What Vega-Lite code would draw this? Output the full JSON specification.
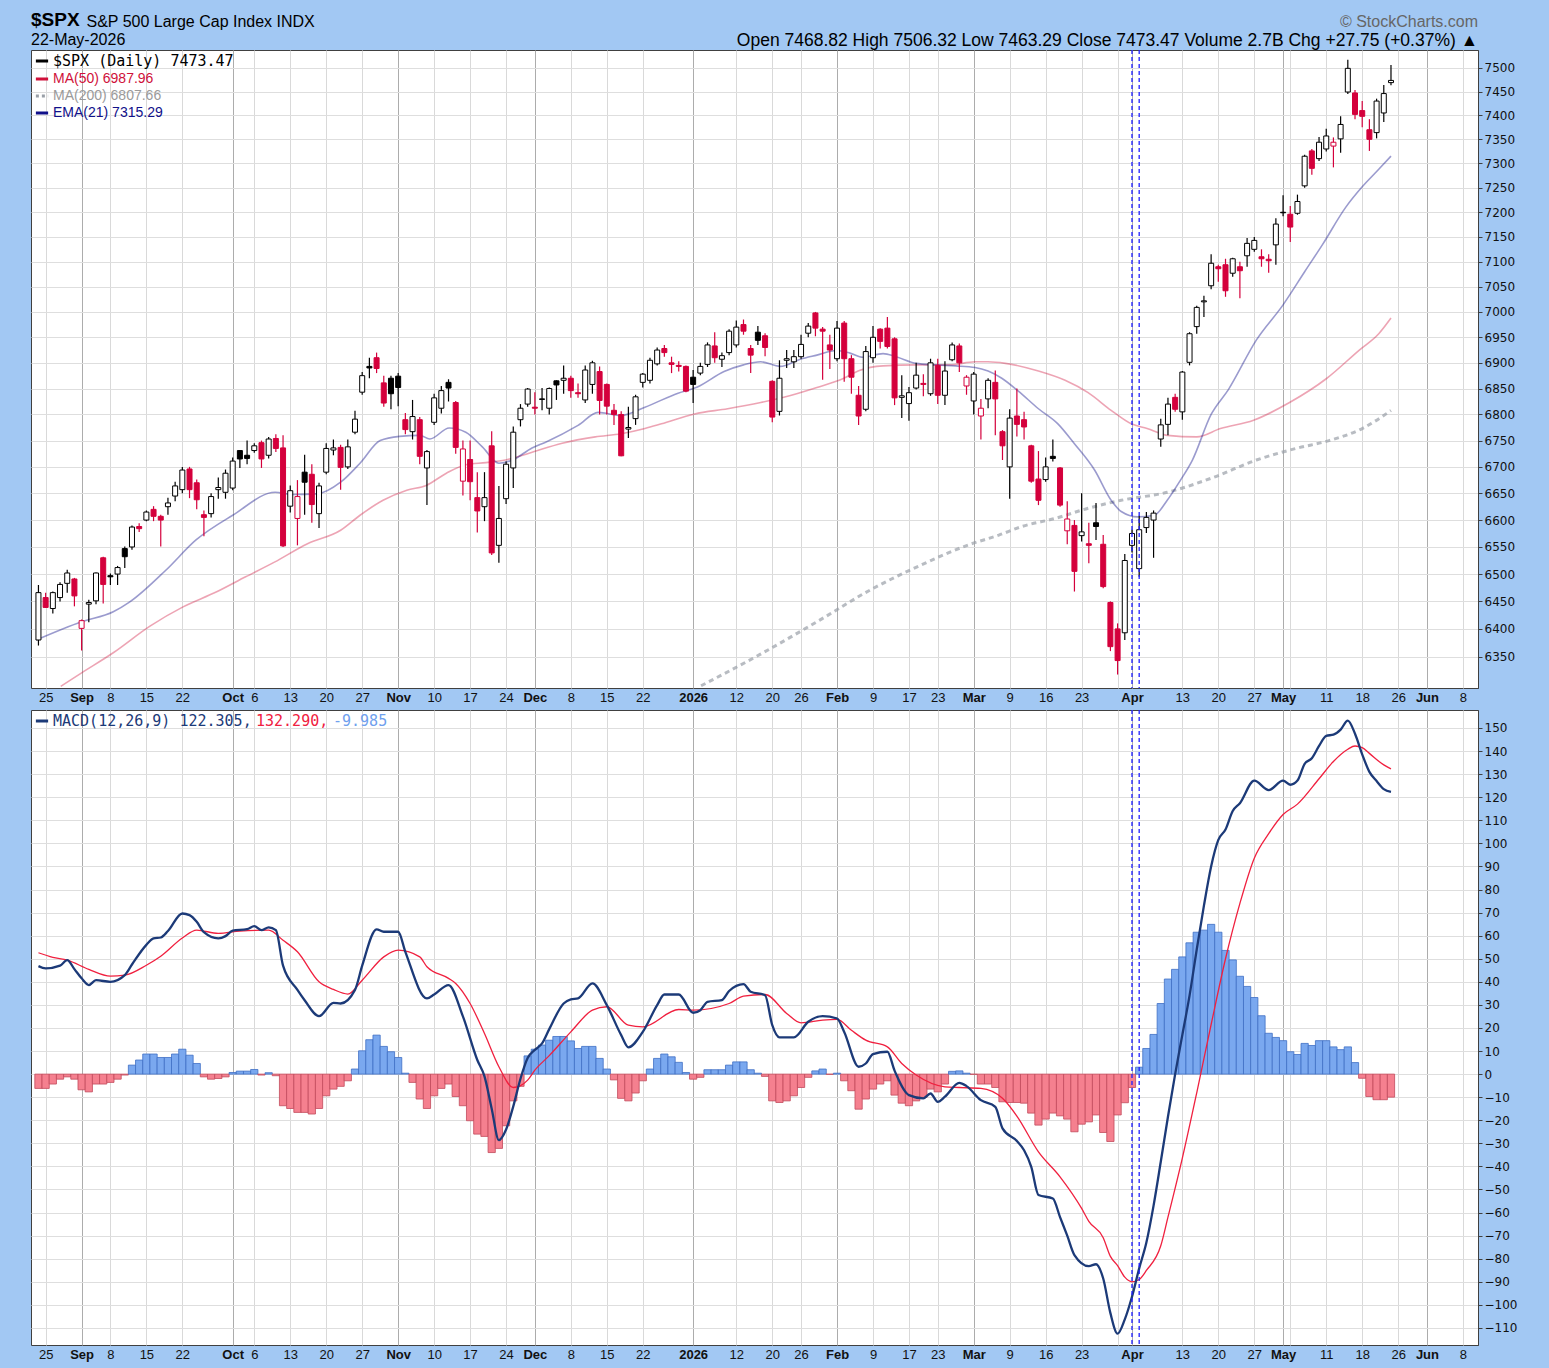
{
"$schema": "https://vega.github.io/schema/vega-lite/v6.json",
"background": "#a2c8f3",
"padding": {"left": 30, "top": 10, "right": 34, "bottom": 8},
"autosize": {"type": "pad"},
"config": {
  "view": {"stroke": "#404040", "strokeWidth": 1, "fill": "#ffffff"},
  "axis": {"title": null, "labelColor": "#111111", "labelOverlap": false},
  "legend": {"labelLimit": 500}
},
"title": {"text": "S&P 500 Large Cap Index  INDX", "anchor": "start", "offset": 0, "dx": 56, "dy": 19, "font": "Liberation Sans", "fontSize": 16, "fontWeight": "normal", "color": "#000000"},
"datasets": {
"candles": [
{"t":-1,"o":6380,"h":6480,"l":6370,"c":6466},{"t":0,"o":6457,"h":6466,"l":6438,"c":6439},{"t":1,"o":6437,"h":6468,"l":6428,"c":6466},{"t":2,"o":6457,"h":6485,"l":6450,"c":6481},{"t":3,"o":6483,"h":6508,"l":6466,"c":6502},{"t":4,"o":6491,"h":6493,"l":6441,"c":6460},{"t":5,"o":6401,"h":6417,"l":6361,"c":6415},{"t":6,"o":6445,"h":6453,"l":6412,"c":6448},{"t":7,"o":6451,"h":6503,"l":6445,"c":6502},{"t":8,"o":6530,"h":6532,"l":6446,"c":6481},
{"t":9,"o":6497,"h":6501,"l":6480,"c":6495},{"t":10,"o":6500,"h":6515,"l":6480,"c":6512},{"t":11,"o":6547,"h":6551,"l":6511,"c":6532},{"t":12,"o":6550,"h":6590,"l":6545,"c":6587},{"t":13,"o":6588,"h":6594,"l":6578,"c":6584},{"t":14,"o":6600,"h":6618,"l":6598,"c":6615},{"t":15,"o":6620,"h":6626,"l":6598,"c":6607},{"t":16,"o":6607,"h":6610,"l":6551,"c":6600},{"t":17,"o":6625,"h":6642,"l":6610,"c":6632},{"t":18,"o":6645,"h":6672,"l":6635,"c":6664},
{"t":19,"o":6657,"h":6700,"l":6650,"c":6694},{"t":20,"o":6696,"h":6700,"l":6641,"c":6657},{"t":21,"o":6670,"h":6676,"l":6620,"c":6638},{"t":22,"o":6610,"h":6618,"l":6570,"c":6605},{"t":23,"o":6612,"h":6650,"l":6605,"c":6644},{"t":24,"o":6657,"h":6680,"l":6640,"c":6661},{"t":25,"o":6652,"h":6695,"l":6640,"c":6688},{"t":26,"o":6660,"h":6718,"l":6656,"c":6711},{"t":27,"o":6731,"h":6731,"l":6698,"c":6715},{"t":28,"o":6722,"h":6750,"l":6705,"c":6716},
{"t":29,"o":6731,"h":6745,"l":6727,"c":6740},{"t":30,"o":6746,"h":6750,"l":6698,"c":6715},{"t":31,"o":6722,"h":6757,"l":6716,"c":6753},{"t":32,"o":6754,"h":6762,"l":6728,"c":6735},{"t":33,"o":6736,"h":6760,"l":6550,"c":6552},{"t":34,"o":6626,"h":6665,"l":6614,"c":6655},{"t":35,"o":6603,"h":6675,"l":6553,"c":6644},{"t":36,"o":6690,"h":6723,"l":6610,"c":6671},{"t":37,"o":6686,"h":6705,"l":6595,"c":6629},{"t":38,"o":6612,"h":6670,"l":6585,"c":6664},
{"t":39,"o":6690,"h":6745,"l":6686,"c":6735},{"t":40,"o":6732,"h":6752,"l":6722,"c":6736},{"t":41,"o":6737,"h":6742,"l":6657,"c":6699},{"t":42,"o":6700,"h":6752,"l":6696,"c":6738},{"t":43,"o":6766,"h":6807,"l":6762,"c":6791},{"t":44,"o":6843,"h":6882,"l":6838,"c":6875},{"t":45,"o":6893,"h":6910,"l":6870,"c":6890},{"t":46,"o":6910,"h":6920,"l":6880,"c":6889},{"t":47,"o":6861,"h":6875,"l":6815,"c":6822},{"t":48,"o":6870,"h":6875,"l":6810,"c":6840},
{"t":49,"o":6874,"h":6880,"l":6816,"c":6852},{"t":50,"o":6790,"h":6803,"l":6762,"c":6771},{"t":51,"o":6767,"h":6828,"l":6752,"c":6796},{"t":52,"o":6790,"h":6795,"l":6705,"c":6720},{"t":53,"o":6698,"h":6732,"l":6628,"c":6729},{"t":54,"o":6785,"h":6840,"l":6780,"c":6832},{"t":55,"o":6812,"h":6855,"l":6802,"c":6846},{"t":56,"o":6862,"h":6868,"l":6825,"c":6851},{"t":57,"o":6823,"h":6826,"l":6725,"c":6737},{"t":58,"o":6673,"h":6750,"l":6646,"c":6734},
{"t":59,"o":6714,"h":6750,"l":6637,"c":6672},{"t":60,"o":6642,"h":6690,"l":6577,"c":6617},{"t":61,"o":6625,"h":6690,"l":6598,"c":6642},{"t":62,"o":6740,"h":6768,"l":6535,"c":6539},{"t":63,"o":6553,"h":6664,"l":6521,"c":6603},{"t":64,"o":6640,"h":6710,"l":6630,"c":6705},{"t":65,"o":6698,"h":6777,"l":6660,"c":6766},{"t":66,"o":6790,"h":6820,"l":6777,"c":6812},{"t":67,"o":6820,"h":6851,"l":6815,"c":6849},{"t":68,"o":6814,"h":6843,"l":6800,"c":6812},
{"t":69,"o":6830,"h":6851,"l":6808,"c":6829},{"t":70,"o":6812,"h":6852,"l":6800,"c":6850},{"t":71,"o":6865,"h":6866,"l":6828,"c":6857},{"t":72,"o":6866,"h":6895,"l":6840,"c":6870},{"t":73,"o":6870,"h":6875,"l":6832,"c":6846},{"t":74,"o":6842,"h":6860,"l":6832,"c":6840},{"t":75,"o":6828,"h":6895,"l":6822,"c":6886},{"t":76,"o":6858,"h":6904,"l":6840,"c":6900},{"t":77,"o":6883,"h":6893,"l":6800,"c":6827},{"t":78,"o":6858,"h":6860,"l":6800,"c":6816},
{"t":79,"o":6808,"h":6820,"l":6780,"c":6800},{"t":80,"o":6800,"h":6806,"l":6720,"c":6721},{"t":81,"o":6772,"h":6815,"l":6755,"c":6775},{"t":82,"o":6792,"h":6838,"l":6780,"c":6834},{"t":83,"o":6862,"h":6880,"l":6852,"c":6878},{"t":84,"o":6866,"h":6910,"l":6860,"c":6905},{"t":85,"o":6898,"h":6930,"l":6895,"c":6925},{"t":86,"o":6928,"h":6935,"l":6912,"c":6920},{"t":87,"o":6900,"h":6912,"l":6880,"c":6897},{"t":88,"o":6895,"h":6903,"l":6883,"c":6893},
{"t":89,"o":6893,"h":6895,"l":6843,"c":6845},{"t":90,"o":6872,"h":6886,"l":6822,"c":6858},{"t":91,"o":6880,"h":6900,"l":6876,"c":6893},{"t":92,"o":6897,"h":6940,"l":6892,"c":6935},{"t":93,"o":6933,"h":6960,"l":6900,"c":6910},{"t":94,"o":6907,"h":6920,"l":6892,"c":6914},{"t":95,"o":6920,"h":6966,"l":6915,"c":6962},{"t":96,"o":6935,"h":6983,"l":6930,"c":6970},{"t":97,"o":6975,"h":6985,"l":6955,"c":6962},{"t":98,"o":6928,"h":6935,"l":6880,"c":6915},
{"t":99,"o":6960,"h":6972,"l":6935,"c":6944},{"t":100,"o":6953,"h":6958,"l":6913,"c":6930},{"t":101,"o":6864,"h":6866,"l":6785,"c":6795},{"t":102,"o":6806,"h":6905,"l":6798,"c":6870},{"t":103,"o":6905,"h":6925,"l":6890,"c":6908},{"t":104,"o":6902,"h":6925,"l":6890,"c":6912},{"t":105,"o":6912,"h":6955,"l":6908,"c":6936},{"t":106,"o":6958,"h":6978,"l":6950,"c":6972},{"t":107,"o":6998,"h":7000,"l":6952,"c":6968},{"t":108,"o":6966,"h":6970,"l":6867,"c":6962},
{"t":109,"o":6935,"h":6955,"l":6888,"c":6925},{"t":110,"o":6908,"h":6982,"l":6903,"c":6968},{"t":111,"o":6978,"h":6982,"l":6863,"c":6908},{"t":112,"o":6908,"h":6915,"l":6840,"c":6872},{"t":113,"o":6837,"h":6855,"l":6780,"c":6797},{"t":114,"o":6810,"h":6933,"l":6806,"c":6922},{"t":115,"o":6910,"h":6972,"l":6900,"c":6950},{"t":116,"o":6966,"h":6968,"l":6928,"c":6942},{"t":117,"o":6968,"h":6990,"l":6928,"c":6932},{"t":118,"o":6947,"h":6950,"l":6818,"c":6832},
{"t":119,"o":6833,"h":6876,"l":6793,"c":6836},{"t":120,"o":6821,"h":6853,"l":6788,"c":6842},{"t":121,"o":6851,"h":6900,"l":6848,"c":6876},{"t":122,"o":6860,"h":6878,"l":6835,"c":6858},{"t":123,"o":6840,"h":6908,"l":6836,"c":6900},{"t":124,"o":6895,"h":6908,"l":6820,"c":6837},{"t":125,"o":6837,"h":6903,"l":6818,"c":6884},{"t":126,"o":6906,"h":6940,"l":6903,"c":6935},{"t":127,"o":6933,"h":6938,"l":6882,"c":6900},{"t":128,"o":6855,"h":6876,"l":6838,"c":6872},
{"t":129,"o":6826,"h":6882,"l":6800,"c":6878},{"t":130,"o":6797,"h":6830,"l":6752,"c":6812},{"t":131,"o":6830,"h":6870,"l":6812,"c":6866},{"t":132,"o":6862,"h":6885,"l":6760,"c":6830},{"t":133,"o":6767,"h":6770,"l":6713,"c":6740},{"t":134,"o":6700,"h":6810,"l":6640,"c":6793},{"t":135,"o":6797,"h":6850,"l":6758,"c":6781},{"t":136,"o":6790,"h":6805,"l":6752,"c":6776},{"t":137,"o":6740,"h":6742,"l":6670,"c":6673},{"t":138,"o":6677,"h":6730,"l":6628,"c":6637},
{"t":139,"o":6676,"h":6718,"l":6672,"c":6700},{"t":140,"o":6720,"h":6752,"l":6710,"c":6716},{"t":141,"o":6698,"h":6700,"l":6625,"c":6628},{"t":142,"o":6580,"h":6635,"l":6555,"c":6602},{"t":143,"o":6590,"h":6600,"l":6468,"c":6505},{"t":144,"o":6571,"h":6650,"l":6560,"c":6578},{"t":145,"o":6556,"h":6595,"l":6520,"c":6553},{"t":146,"o":6595,"h":6632,"l":6563,"c":6588},{"t":147,"o":6555,"h":6572,"l":6474,"c":6477},{"t":148,"o":6448,"h":6450,"l":6360,"c":6368},
{"t":149,"o":6400,"h":6410,"l":6318,"c":6343},{"t":150,"o":6393,"h":6537,"l":6380,"c":6525},{"t":151,"o":6553,"h":6582,"l":6540,"c":6575},{"t":152,"o":6510,"h":6608,"l":6495,"c":6582},{"t":153,"o":6586,"h":6615,"l":6576,"c":6605},{"t":154,"o":6600,"h":6618,"l":6530,"c":6613},{"t":155,"o":6753,"h":6792,"l":6738,"c":6780},{"t":156,"o":6781,"h":6832,"l":6760,"c":6820},{"t":157,"o":6833,"h":6840,"l":6805,"c":6810},{"t":158,"o":6805,"h":6884,"l":6790,"c":6882},
{"t":159,"o":6901,"h":6960,"l":6895,"c":6957},{"t":160,"o":6971,"h":7012,"l":6957,"c":7009},{"t":161,"o":7020,"h":7032,"l":6990,"c":7022},{"t":162,"o":7052,"h":7115,"l":7045,"c":7097},{"t":163,"o":7090,"h":7094,"l":7060,"c":7086},{"t":164,"o":7094,"h":7106,"l":7030,"c":7042},{"t":165,"o":7077,"h":7108,"l":7070,"c":7106},{"t":166,"o":7090,"h":7100,"l":7027,"c":7082},{"t":167,"o":7112,"h":7148,"l":7090,"c":7137},{"t":168,"o":7125,"h":7150,"l":7120,"c":7143},
{"t":169,"o":7110,"h":7125,"l":7090,"c":7106},{"t":170,"o":7105,"h":7115,"l":7078,"c":7102},{"t":171,"o":7134,"h":7188,"l":7094,"c":7176},{"t":172,"o":7200,"h":7235,"l":7192,"c":7199},{"t":173,"o":7196,"h":7213,"l":7140,"c":7170},{"t":174,"o":7198,"h":7236,"l":7195,"c":7222},{"t":175,"o":7254,"h":7318,"l":7250,"c":7315},{"t":176,"o":7326,"h":7330,"l":7277,"c":7290},{"t":177,"o":7310,"h":7355,"l":7305,"c":7344},{"t":178,"o":7330,"h":7372,"l":7325,"c":7357},
{"t":179,"o":7336,"h":7354,"l":7292,"c":7344},{"t":180,"o":7351,"h":7398,"l":7322,"c":7381},{"t":181,"o":7449,"h":7517,"l":7445,"c":7499},{"t":182,"o":7447,"h":7453,"l":7392,"c":7402},{"t":183,"o":7410,"h":7430,"l":7375,"c":7398},{"t":184,"o":7370,"h":7392,"l":7326,"c":7350},{"t":185,"o":7364,"h":7435,"l":7352,"c":7430},{"t":186,"o":7405,"h":7464,"l":7386,"c":7445.72},{"t":187,"o":7468.82,"h":7506.32,"l":7463.29,"c":7473.47}
],
"ma": [
{"k":"ema","t":-1.3,"v":6380},{"k":"ema","t":5,"v":6413},{"k":"ema","t":9.4,"v":6431},{"k":"ema","t":11.7,"v":6449},{"k":"ema","t":16.7,"v":6507},{"k":"ema","t":20.9,"v":6563},{"k":"ema","t":26,"v":6609},{"k":"ema","t":31.9,"v":6652},{"k":"ema","t":34.2,"v":6648},{"k":"ema","t":37.7,"v":6649},{"k":"ema","t":41,"v":6671},{"k":"ema","t":43.7,"v":6707},{"k":"ema","t":46.5,"v":6750},{"k":"ema","t":49.2,"v":6758},{"k":"ema","t":52,"v":6760},{"k":"ema","t":53.4,"v":6753},{"k":"ema","t":56.1,"v":6774},{"k":"ema","t":58.4,"v":6766},{"k":"ema","t":60.7,"v":6738},{"k":"ema","t":63,"v":6707},{"k":"ema","t":64.9,"v":6713},{"k":"ema","t":67.6,"v":6736},{"k":"ema","t":69.5,"v":6747},{"k":"ema","t":74,"v":6779},{"k":"ema","t":76.8,"v":6804},{"k":"ema","t":80,"v":6798},{"k":"ema","t":83.3,"v":6814},{"k":"ema","t":87.9,"v":6841},{"k":"ema","t":90.6,"v":6853},{"k":"ema","t":94.3,"v":6883},{"k":"ema","t":97,"v":6896},{"k":"ema","t":99.4,"v":6902},{"k":"ema","t":102.1,"v":6893},{"k":"ema","t":104.9,"v":6907},{"k":"ema","t":107.2,"v":6915},{"k":"ema","t":109.9,"v":6924},{"k":"ema","t":111.8,"v":6919},{"k":"ema","t":113.6,"v":6911},{"k":"ema","t":116.4,"v":6918},{"k":"ema","t":118.2,"v":6912},{"k":"ema","t":121,"v":6899},{"k":"ema","t":123.7,"v":6896},{"k":"ema","t":126.5,"v":6894},{"k":"ema","t":129.2,"v":6891},{"k":"ema","t":131,"v":6884},{"k":"ema","t":132.9,"v":6870},{"k":"ema","t":135.2,"v":6845},{"k":"ema","t":138,"v":6811},{"k":"ema","t":140.7,"v":6782},{"k":"ema","t":143,"v":6744},{"k":"ema","t":145.8,"v":6694},{"k":"ema","t":148.1,"v":6637},{"k":"ema","t":149.5,"v":6616},{"k":"ema","t":151.8,"v":6606},{"k":"ema","t":154.1,"v":6609},{"k":"ema","t":155.9,"v":6637},{"k":"ema","t":157.7,"v":6674},{"k":"ema","t":159.4,"v":6713},{"k":"ema","t":162,"v":6800},{"k":"ema","t":164.4,"v":6848},{"k":"ema","t":168.3,"v":6945},{"k":"ema","t":172,"v":7014},{"k":"ema","t":175,"v":7080},{"k":"ema","t":177.5,"v":7135},{"k":"ema","t":180.7,"v":7210},{"k":"ema","t":183,"v":7252},{"k":"ema","t":185.3,"v":7288},{"k":"ema","t":187,"v":7315.29},
{"k":"ma50","t":2.1,"v":6297},{"k":"ma50","t":5,"v":6321},{"k":"ma50","t":9.4,"v":6357},{"k":"ma50","t":14.5,"v":6405},{"k":"ma50","t":19.1,"v":6440},{"k":"ma50","t":23.7,"v":6467},{"k":"ma50","t":27.8,"v":6495},{"k":"ma50","t":31.8,"v":6522},{"k":"ma50","t":36.4,"v":6556},{"k":"ma50","t":41,"v":6581},{"k":"ma50","t":43.7,"v":6609},{"k":"ma50","t":46.9,"v":6637},{"k":"ma50","t":50.2,"v":6656},{"k":"ma50","t":52.9,"v":6665},{"k":"ma50","t":55.7,"v":6688},{"k":"ma50","t":58.4,"v":6704},{"k":"ma50","t":61.2,"v":6708},{"k":"ma50","t":63.9,"v":6713},{"k":"ma50","t":67.2,"v":6726},{"k":"ma50","t":71.8,"v":6745},{"k":"ma50","t":76.4,"v":6757},{"k":"ma50","t":80,"v":6763},{"k":"ma50","t":83.3,"v":6773},{"k":"ma50","t":85.6,"v":6782},{"k":"ma50","t":90.2,"v":6801},{"k":"ma50","t":94.8,"v":6811},{"k":"ma50","t":99.4,"v":6823},{"k":"ma50","t":102.6,"v":6833},{"k":"ma50","t":107.2,"v":6852},{"k":"ma50","t":110.8,"v":6869},{"k":"ma50","t":113.1,"v":6885},{"k":"ma50","t":116.4,"v":6894},{"k":"ma50","t":121,"v":6896},{"k":"ma50","t":125.6,"v":6896},{"k":"ma50","t":129.2,"v":6902},{"k":"ma50","t":131,"v":6902},{"k":"ma50","t":133.4,"v":6899},{"k":"ma50","t":138,"v":6884},{"k":"ma50","t":141.7,"v":6866},{"k":"ma50","t":144.9,"v":6842},{"k":"ma50","t":148.1,"v":6808},{"k":"ma50","t":150.9,"v":6782},{"k":"ma50","t":153.1,"v":6773},{"k":"ma50","t":155.9,"v":6760},{"k":"ma50","t":160,"v":6757},{"k":"ma50","t":163.3,"v":6773},{"k":"ma50","t":167.9,"v":6789},{"k":"ma50","t":172.9,"v":6823},{"k":"ma50","t":178,"v":6869},{"k":"ma50","t":182.6,"v":6925},{"k":"ma50","t":185.3,"v":6957},{"k":"ma50","t":187,"v":6987.96},
{"k":"ma200","t":91.1,"v":6298},{"k":"ma200","t":99.3,"v":6354},{"k":"ma200","t":107.6,"v":6416},{"k":"ma200","t":114.5,"v":6470},{"k":"ma200","t":121.4,"v":6515},{"k":"ma200","t":128.3,"v":6554},{"k":"ma200","t":132.5,"v":6572},{"k":"ma200","t":135.7,"v":6588},{"k":"ma200","t":140.3,"v":6603},{"k":"ma200","t":144.9,"v":6622},{"k":"ma200","t":149.5,"v":6637},{"k":"ma200","t":155.9,"v":6652},{"k":"ma200","t":162.3,"v":6680},{"k":"ma200","t":168.3,"v":6713},{"k":"ma200","t":173.8,"v":6735},{"k":"ma200","t":178.4,"v":6750},{"k":"ma200","t":183,"v":6773},{"k":"ma200","t":187,"v":6807.66}
],
"hist": [
{"t":-1,"h":-6.2},{"t":0,"h":-6.2},{"t":1,"h":-4.3},{"t":2,"h":-2.2},{"t":3,"h":-1.2},{"t":4,"h":-2.2},{"t":5,"h":-6.8},{"t":6,"h":-7.7},{"t":7,"h":-4.3},{"t":8,"h":-4.3},{"t":9,"h":-3.6},{"t":10,"h":-2.2},{"t":11,"h":-0.4},{"t":12,"h":3.9},{"t":13,"h":6.1},{"t":14,"h":8.7},{"t":15,"h":8.7},{"t":16,"h":7.2},{"t":17,"h":7.2},{"t":18,"h":8.7},{"t":19,"h":10.8},{"t":20,"h":8.2},{"t":21,"h":4.6},{"t":22,"h":-1.2},{"t":23,"h":-2.2},{"t":24,"h":-1.9},{"t":25,"h":-1.2},{"t":26,"h":0.7},{"t":27,"h":1.3},{"t":28,"h":1.3},{"t":29,"h":2.0},{"t":30,"h":-0.4},{"t":31,"h":0.6},{"t":32,"h":-0.7},{"t":33,"h":-13.7},{"t":34,"h":-14.9},{"t":35,"h":-16.6},{"t":36,"h":-16.6},{"t":37,"h":-17.3},{"t":38,"h":-14.9},{"t":39,"h":-9.4},{"t":40,"h":-6.5},{"t":41,"h":-5.3},{"t":42,"h":-2.9},{"t":43,"h":2.2},{"t":44,"h":10.1},{"t":45,"h":14.9},{"t":46,"h":16.9},{"t":47,"h":12.0},{"t":48,"h":9.7},{"t":49,"h":7.2},{"t":50,"h":0.4},{"t":51,"h":-3.6},{"t":52,"h":-10.8},{"t":53,"h":-14.9},{"t":54,"h":-9.4},{"t":55,"h":-6.2},{"t":56,"h":-4.3},{"t":57,"h":-9.7},{"t":58,"h":-13.7},{"t":59,"h":-20.2},{"t":60,"h":-26},{"t":61,"h":-27},{"t":62,"h":-34},{"t":63,"h":-32.2},{"t":64,"h":-22.4},{"t":65,"h":-11.6},{"t":66,"h":-5.3},{"t":67,"h":7.9},{"t":68,"h":10.8},{"t":69,"h":12.6},{"t":70,"h":14.7},{"t":71,"h":16.3},{"t":72,"h":16.3},{"t":73,"h":14.4},{"t":74,"h":11.1},{"t":75,"h":12.0},{"t":76,"h":12.0},{"t":77,"h":6.8},{"t":78,"h":2.2},{"t":79,"h":-2.5},{"t":80,"h":-10.5},{"t":81,"h":-11.6},{"t":82,"h":-8.2},{"t":83,"h":-2.9},{"t":84,"h":2.2},{"t":85,"h":6.8},{"t":86,"h":8.7},{"t":87,"h":7.5},{"t":88,"h":5.1},{"t":89,"h":0.7},{"t":90,"h":-2.2},{"t":91,"h":-1.4},{"t":92,"h":1.9},{"t":93,"h":1.9},{"t":94,"h":1.9},{"t":95,"h":3.9},{"t":96,"h":5.3},{"t":97,"h":5.3},{"t":98,"h":1.9},{"t":99,"h":0.4},{"t":100,"h":-1.0},{"t":101,"h":-11.6},{"t":102,"h":-12.3},{"t":103,"h":-11.6},{"t":104,"h":-9.4},{"t":105,"h":-5.8},{"t":106,"h":-1.4},{"t":107,"h":1.4},{"t":108,"h":2.2},{"t":109,"h":-0.1},{"t":110,"h":0.4},{"t":111,"h":-2.9},{"t":112,"h":-7.2},{"t":113,"h":-15.2},{"t":114,"h":-10.8},{"t":115,"h":-6.5},{"t":116,"h":-4.3},{"t":117,"h":-2.9},{"t":118,"h":-9.1},{"t":119,"h":-12.6},{"t":120,"h":-13.7},{"t":121,"h":-11.6},{"t":122,"h":-10.1},{"t":123,"h":-6.5},{"t":124,"h":-7.7},{"t":125,"h":-4.3},{"t":126,"h":1.2},{"t":127,"h":1.4},{"t":128,"h":0.4},{"t":129,"h":-0.1},{"t":130,"h":-4.3},{"t":131,"h":-4.3},{"t":132,"h":-5.8},{"t":133,"h":-12.0},{"t":134,"h":-12.3},{"t":135,"h":-12.3},{"t":136,"h":-12.6},{"t":137,"h":-16.9},{"t":138,"h":-22.1},{"t":139,"h":-19.5},{"t":140,"h":-16.9},{"t":141,"h":-18.1},{"t":142,"h":-19.5},{"t":143,"h":-25.0},{"t":144,"h":-21.7},{"t":145,"h":-20.7},{"t":146,"h":-17.7},{"t":147,"h":-25.3},{"t":148,"h":-29.2},{"t":149,"h":-17.7},{"t":150,"h":-12.4},{"t":151,"h":-5.8},{"t":152,"h":3.0},{"t":153,"h":11.1},{"t":154,"h":17.2},{"t":155,"h":30.6},{"t":156,"h":41.2},{"t":157,"h":45.4},{"t":158,"h":50.8},{"t":159,"h":56.9},{"t":160,"h":61.5},{"t":161,"h":62.4},{"t":162,"h":64.9},{"t":163,"h":61.5},{"t":164,"h":53.6},{"t":165,"h":49.5},{"t":166,"h":42.4},{"t":167,"h":38.0},{"t":168,"h":33.2},{"t":169,"h":25.3},{"t":170,"h":17.7},{"t":171,"h":15.9},{"t":172,"h":14.5},{"t":173,"h":9.7},{"t":174,"h":8.5},{"t":175,"h":13.3},{"t":176,"h":12.4},{"t":177,"h":14.5},{"t":178,"h":14.5},{"t":179,"h":11.8},{"t":180,"h":10.6},{"t":181,"h":11.8},{"t":182,"h":5.0},{"t":183,"h":-1.8},{"t":184,"h":-9.7},{"t":185,"h":-11.1},{"t":186,"h":-11.1},{"t":187,"h":-9.985}
],
"macd": [
{"k":"m","t":-1,"v":46.8},{"k":"m","t":0,"v":45.8},{"k":"m","t":2,"v":47.0},{"k":"m","t":3,"v":49.4},{"k":"m","t":4,"v":45.5},{"k":"m","t":5,"v":41.5},{"k":"m","t":6,"v":38.6},{"k":"m","t":7,"v":40.7},{"k":"m","t":9,"v":40.0},{"k":"m","t":11,"v":42.9},{"k":"m","t":12,"v":47.5},{"k":"m","t":14,"v":56},{"k":"m","t":15,"v":58.8},{"k":"m","t":16,"v":59.2},{"k":"m","t":17,"v":62.0},{"k":"m","t":19,"v":69.6},{"k":"m","t":20,"v":68.9},{"k":"m","t":21,"v":66.0},{"k":"m","t":22,"v":61.5},{"k":"m","t":24,"v":58.8},{"k":"m","t":25,"v":59.8},{"k":"m","t":26,"v":62.2},{"k":"m","t":28,"v":62.8},{"k":"m","t":29,"v":64.1},{"k":"m","t":30,"v":62.4},{"k":"m","t":31,"v":63.6},{"k":"m","t":32,"v":62.4},{"k":"m","t":33,"v":47.0},{"k":"m","t":35,"v":36.5},{"k":"m","t":36,"v":32},{"k":"m","t":38,"v":25.1},{"k":"m","t":40,"v":30.9},{"k":"m","t":41,"v":30.6},{"k":"m","t":43,"v":36.5},{"k":"m","t":44,"v":47},{"k":"m","t":46,"v":62.7},{"k":"m","t":47,"v":61.7},{"k":"m","t":49,"v":61.7},{"k":"m","t":50,"v":53},{"k":"m","t":53,"v":32.8},{"k":"m","t":54,"v":34.5},{"k":"m","t":56,"v":38.6},{"k":"m","t":58,"v":25},{"k":"m","t":60,"v":6.1},{"k":"m","t":61,"v":-1},{"k":"m","t":62,"v":-15},{"k":"m","t":63,"v":-28.6},{"k":"m","t":64,"v":-24},{"k":"m","t":65,"v":-14},{"k":"m","t":66,"v":-2},{"k":"m","t":67,"v":7},{"k":"m","t":68,"v":10.5},{"k":"m","t":69,"v":13.3},{"k":"m","t":70,"v":19.5},{"k":"m","t":72,"v":30.6},{"k":"m","t":73,"v":32.4},{"k":"m","t":74,"v":32.8},{"k":"m","t":76,"v":39.3},{"k":"m","t":78,"v":29.9},{"k":"m","t":80,"v":16.9},{"k":"m","t":81,"v":11.6},{"k":"m","t":83,"v":18.3},{"k":"m","t":85,"v":29.9},{"k":"m","t":86,"v":34.5},{"k":"m","t":88,"v":34.5},{"k":"m","t":90,"v":26.6},{"k":"m","t":91,"v":27.7},{"k":"m","t":92,"v":31.3},{"k":"m","t":94,"v":32.1},{"k":"m","t":95,"v":36},{"k":"m","t":97,"v":39.0},{"k":"m","t":98,"v":35.7},{"k":"m","t":100,"v":34.2},{"k":"m","t":101,"v":21.2},{"k":"m","t":102,"v":15.9},{"k":"m","t":104,"v":15.9},{"k":"m","t":106,"v":22.7},{"k":"m","t":108,"v":25.1},{"k":"m","t":110,"v":24.1},{"k":"m","t":111,"v":18.3},{"k":"m","t":113,"v":3.2},{"k":"m","t":114,"v":4.6},{"k":"m","t":115,"v":8.7},{"k":"m","t":117,"v":9.7},{"k":"m","t":118,"v":1.5},{"k":"m","t":120,"v":-9.1},{"k":"m","t":122,"v":-10.5},{"k":"m","t":123,"v":-8.4},{"k":"m","t":124,"v":-12.0},{"k":"m","t":125,"v":-9.8},{"k":"m","t":127,"v":-3.8},{"k":"m","t":128,"v":-5.2},{"k":"m","t":130,"v":-11.3},{"k":"m","t":132,"v":-14.2},{"k":"m","t":133,"v":-23.5},{"k":"m","t":135,"v":-29},{"k":"m","t":136,"v":-33},{"k":"m","t":137,"v":-40.2},{"k":"m","t":138,"v":-52.4},{"k":"m","t":140,"v":-53.9},{"k":"m","t":141,"v":-62},{"k":"m","t":142,"v":-70},{"k":"m","t":143,"v":-78.4},{"k":"m","t":145,"v":-83.2},{"k":"m","t":146,"v":-82.4},{"k":"m","t":147,"v":-88.6},{"k":"m","t":148,"v":-103.6},{"k":"m","t":149,"v":-112.5},{"k":"m","t":150,"v":-106.3},{"k":"m","t":151,"v":-96.5},{"k":"m","t":152,"v":-84.2},{"k":"m","t":153,"v":-73},{"k":"m","t":154,"v":-57},{"k":"m","t":155,"v":-38},{"k":"m","t":156,"v":-18.5},{"k":"m","t":157,"v":0},{"k":"m","t":158,"v":17},{"k":"m","t":159,"v":34},{"k":"m","t":160,"v":54},{"k":"m","t":161,"v":73},{"k":"m","t":162,"v":90},{"k":"m","t":163,"v":101.5},{"k":"m","t":164,"v":106},{"k":"m","t":165,"v":114},{"k":"m","t":166,"v":117.4},{"k":"m","t":168,"v":127.2},{"k":"m","t":170,"v":123.1},{"k":"m","t":172,"v":127.2},{"k":"m","t":173,"v":125.4},{"k":"m","t":174,"v":127.2},{"k":"m","t":175,"v":134.5},{"k":"m","t":176,"v":136.9},{"k":"m","t":177,"v":142.2},{"k":"m","t":178,"v":146.6},{"k":"m","t":179,"v":147.1},{"k":"m","t":180,"v":149.3},{"k":"m","t":181,"v":153.2},{"k":"m","t":182,"v":147.5},{"k":"m","t":183,"v":138.6},{"k":"m","t":184,"v":131},{"k":"m","t":185,"v":127},{"k":"m","t":186,"v":123.5},{"k":"m","t":187,"v":122.305},
{"k":"s","t":-1,"v":52.6},{"k":"s","t":1,"v":50.6},{"k":"s","t":3,"v":49.4},{"k":"s","t":6,"v":45.4},{"k":"s","t":9,"v":42.5},{"k":"s","t":11,"v":42.9},{"k":"s","t":14,"v":47.2},{"k":"s","t":16,"v":51.1},{"k":"s","t":19,"v":59},{"k":"s","t":21,"v":62.4},{"k":"s","t":24,"v":61.0},{"k":"s","t":27,"v":62.0},{"k":"s","t":31,"v":62.4},{"k":"s","t":33,"v":58},{"k":"s","t":35,"v":53},{"k":"s","t":38,"v":40.0},{"k":"s","t":40,"v":36.7},{"k":"s","t":42,"v":34.7},{"k":"s","t":44,"v":40.7},{"k":"s","t":47,"v":50.8},{"k":"s","t":49,"v":53.7},{"k":"s","t":52,"v":50.8},{"k":"s","t":53,"v":46.5},{"k":"s","t":56,"v":41.5},{"k":"s","t":57,"v":39.3},{"k":"s","t":59,"v":30.6},{"k":"s","t":61,"v":17.6},{"k":"s","t":63,"v":3.2},{"k":"s","t":65,"v":-5.8},{"k":"s","t":66,"v":-5},{"k":"s","t":67,"v":-2.6},{"k":"s","t":68,"v":1.7},{"k":"s","t":70,"v":8},{"k":"s","t":73,"v":18.3},{"k":"s","t":76,"v":27.7},{"k":"s","t":78,"v":29.2},{"k":"s","t":81,"v":21.2},{"k":"s","t":83,"v":20.5},{"k":"s","t":88,"v":28.0},{"k":"s","t":90,"v":27.7},{"k":"s","t":95,"v":30.6},{"k":"s","t":97,"v":33.8},{"k":"s","t":100,"v":34.5},{"k":"s","t":103,"v":26.3},{"k":"s","t":105,"v":22.2},{"k":"s","t":108,"v":23.4},{"k":"s","t":110,"v":23.7},{"k":"s","t":112,"v":19},{"k":"s","t":114,"v":14.7},{"k":"s","t":117,"v":11.8},{"k":"s","t":119,"v":4.6},{"k":"s","t":121,"v":-0.4},{"k":"s","t":125,"v":-5.5},{"k":"s","t":127,"v":-5.8},{"k":"s","t":130,"v":-6.2},{"k":"s","t":133,"v":-10.5},{"k":"s","t":135,"v":-18.2},{"k":"s","t":138,"v":-33.7},{"k":"s","t":141,"v":-44.5},{"k":"s","t":144,"v":-58.2},{"k":"s","t":145,"v":-63.8},{"k":"s","t":147,"v":-70.9},{"k":"s","t":148,"v":-79},{"k":"s","t":149,"v":-83},{"k":"s","t":150,"v":-88},{"k":"s","t":151,"v":-90},{"k":"s","t":152,"v":-89},{"k":"s","t":153,"v":-85.1},{"k":"s","t":155,"v":-74.4},{"k":"s","t":156,"v":-62},{"k":"s","t":158,"v":-36.4},{"k":"s","t":160,"v":-8.1},{"k":"s","t":162,"v":21.5},{"k":"s","t":164,"v":50},{"k":"s","t":166,"v":74},{"k":"s","t":168,"v":93.6},{"k":"s","t":170,"v":104.2},{"k":"s","t":172,"v":112.5},{"k":"s","t":174,"v":117},{"k":"s","t":177,"v":128},{"k":"s","t":179,"v":135.5},{"k":"s","t":181,"v":140.8},{"k":"s","t":182,"v":142.2},{"k":"s","t":183,"v":141.5},{"k":"s","t":184,"v":139},{"k":"s","t":186,"v":134},{"k":"s","t":187,"v":132.29}
],
"marks": [{"t":151},{"t":152}]
},
"spacing": 22,
"bounds": "flush",
"resolve": {"scale": {"color": "independent"}, "legend": {"color": "independent"}},
"vconcat": [
{
"width": 1447, "height": 638,
"title": {"text": "$SPX", "subtitle": "22-May-2026", "anchor": "start", "frame": "group", "offset": 1, "font": "Liberation Sans", "fontSize": 19, "fontWeight": "bold", "color": "#000000", "subtitleFont": "Liberation Sans", "subtitleFontSize": 16, "subtitleColor": "#000000", "subtitlePadding": 2},
"layer": [
{
"data": {"name": "ma"},
"transform": [{"filter": "datum.k == 'ma200'"}],
"mark": {"type": "line", "strokeDash": [5, 4], "strokeWidth": 3, "strokeOpacity": 0.7, "clip": true, "interpolate": "monotone"},
"encoding": {
"x": {"field": "t", "type": "quantitative", "scale": {"domain": [-1.34, 198.4], "nice": false, "zero": false},
 "axis": {"values": [0,5,9,14,19,26,29,34,39,44,49,54,59,64,68,73,78,83,90,96,101,105,110,115,120,124,129,134,139,144,149,151,158,163,168,172,173,178,183,188,192,197], "tickCount": 300,
 "labelExpr": "({'0':'25','5':'Sep','9':'8','14':'15','19':'22','26':'Oct','29':'6','34':'13','39':'20','44':'27','49':'Nov','54':'10','59':'17','64':'24','68':'Dec','73':'8','78':'15','83':'22','90':'2026','96':'12','101':'20','105':'26','110':'Feb','115':'9','120':'17','124':'23','129':'Mar','134':'9','139':'16','144':'23','151':'Apr','158':'13','163':'20','168':'27','172':'May','178':'11','183':'18','188':'26','192':'Jun','197':'8'})[datum.value] || ''",
 "grid": true, "gridColor": {"condition": {"test": "indexof([5,26,49,68,90,110,129,151,172,192], datum.value) >= 0", "value": "#acacac"}, "value": "#d9d9d9"},
 "ticks": false, "domain": false, "labelPadding": 3, "labelFont": "Liberation Sans", "labelFontSize": 13,
 "labelFontWeight": {"condition": {"test": "indexof([5,26,49,68,90,110,129,151,172,192], datum.value) >= 0", "value": "bold"}, "value": "normal"},
 "labelOverlap": false, "labelFlush": false, "labelBound": false}},
"y": {"field": "v", "type": "quantitative", "scale": {"type": "log", "domain": [6294, 7538], "nice": false, "zero": false},
 "axis": {"orient": "right", "values": [6350,6400,6450,6500,6550,6600,6650,6700,6750,6800,6850,6900,6950,7000,7050,7100,7150,7200,7250,7300,7350,7400,7450,7500], "tickCount": 300, "format": "d", "grid": true, "gridColor": "#dedede", "domain": true, "domainColor": "#404040", "ticks": true, "tickSize": 4, "tickColor": "#404040", "labelPadding": 2, "labelFont": "DejaVu Sans", "labelFontSize": 12, "labelOverlap": false}},
"color": {"datum": "MA(200) 6807.66", "type": "nominal",
 "scale": {"domain": ["$SPX (Daily) 7473.47", "MA(50) 6987.96", "MA(200) 6807.66", "EMA(21) 7315.29"], "range": ["#000000", "#d0103a", "#9aa0a8", "#10108a"]},
 "legend": {"orient": "top-left", "title": null, "offset": 3, "padding": 0, "rowPadding": 2, "symbolType": "stroke", "symbolSize": 150, "symbolStrokeWidth": 3, "symbolOpacity": 1, "labelOffset": 3,
  "labelFontSize": {"expr": "datum.value == '$SPX (Daily) 7473.47' ? 15 : 14"},
  "symbolDash": {"expr": "datum.value == 'MA(200) 6807.66' ? [3, 3] : [1, 0]"},
  "labelFont": {"expr": "datum.value == '$SPX (Daily) 7473.47' ? 'DejaVu Sans Mono' : 'Liberation Sans Narrow, Liberation Sans'"},
  "labelColor": {"expr": "datum.value == 'MA(50) 6987.96' ? '#d0103a' : datum.value == 'MA(200) 6807.66' ? '#9a9a9a' : datum.value == 'EMA(21) 7315.29' ? '#10108a' : '#000000'"}}}
}
},
{
"data": {"name": "ma"},
"transform": [{"filter": "datum.k == 'ma50'"}],
"mark": {"type": "line", "strokeWidth": 1.6, "strokeOpacity": 0.38, "clip": true, "interpolate": "monotone"},
"encoding": {"x": {"field": "t", "type": "quantitative"}, "y": {"field": "v", "type": "quantitative"}, "color": {"datum": "MA(50) 6987.96", "type": "nominal"}}
},
{
"data": {"name": "ma"},
"transform": [{"filter": "datum.k == 'ema'"}],
"mark": {"type": "line", "strokeWidth": 1.6, "strokeOpacity": 0.42, "clip": true, "interpolate": "monotone"},
"encoding": {"x": {"field": "t", "type": "quantitative"}, "y": {"field": "v", "type": "quantitative"}, "color": {"datum": "EMA(21) 7315.29", "type": "nominal"}}
},
{
"data": {"name": "candles"},
"transform": [{"window": [{"op": "lag", "field": "c", "as": "pc"}], "sort": [{"field": "t"}]}],
"mark": {"type": "rule", "strokeWidth": 1.2, "clip": true},
"encoding": {"x": {"field": "t", "type": "quantitative"}, "y": {"field": "l", "type": "quantitative"}, "y2": {"field": "h"},
 "stroke": {"condition": {"test": "datum.pc != null && datum.c < datum.pc", "value": "#d4003c"}, "value": "#000000"}}
},
{
"data": {"name": "candles"},
"transform": [{"window": [{"op": "lag", "field": "c", "as": "pc"}], "sort": [{"field": "t"}]}],
"mark": {"type": "bar", "width": 5, "strokeWidth": 1, "clip": true},
"encoding": {"x": {"field": "t", "type": "quantitative"}, "y": {"field": "o", "type": "quantitative"}, "y2": {"field": "c"},
 "fill": {"condition": [{"test": "datum.c >= datum.o", "value": "#ffffff"}, {"test": "datum.pc != null && datum.c < datum.pc", "value": "#d4003c"}], "value": "#000000"},
 "stroke": {"condition": {"test": "datum.pc != null && datum.c < datum.pc", "value": "#d4003c"}, "value": "#000000"}}
},
{
"data": {"name": "marks"},
"mark": {"type": "rule", "color": "#1f1fff", "strokeDash": [4, 3], "strokeWidth": 1.3},
"encoding": {"x": {"field": "t", "type": "quantitative"}}
}
]
},
{
"width": 1447, "height": 635,
"title": {"text": "© StockCharts.com", "subtitle": "Open 7468.82   High 7506.32   Low 7463.29   Close 7473.47   Volume 2.7B   Chg +27.75 (+0.37%) ▲", "anchor": "end", "frame": "group", "orient": "top", "offset": 0, "dy": -660, "font": "Liberation Sans", "fontSize": 16, "fontWeight": "normal", "color": "#666666", "subtitleFont": "Liberation Sans", "subtitleFontSize": 17.5, "subtitleColor": "#000000", "subtitlePadding": 2},
"layer": [
{
"data": {"name": "hist"},
"mark": {"type": "bar", "width": 7.25, "strokeWidth": 0.8},
"encoding": {
"x": {"field": "t", "type": "quantitative", "scale": {"domain": [-1.34, 198.4], "nice": false, "zero": false},
 "axis": {"values": [0,5,9,14,19,26,29,34,39,44,49,54,59,64,68,73,78,83,90,96,101,105,110,115,120,124,129,134,139,144,149,151,158,163,168,172,173,178,183,188,192,197], "tickCount": 300,
 "labelExpr": "({'0':'25','5':'Sep','9':'8','14':'15','19':'22','26':'Oct','29':'6','34':'13','39':'20','44':'27','49':'Nov','54':'10','59':'17','64':'24','68':'Dec','73':'8','78':'15','83':'22','90':'2026','96':'12','101':'20','105':'26','110':'Feb','115':'9','120':'17','124':'23','129':'Mar','134':'9','139':'16','144':'23','151':'Apr','158':'13','163':'20','168':'27','172':'May','178':'11','183':'18','188':'26','192':'Jun','197':'8'})[datum.value] || ''",
 "grid": true, "gridColor": {"condition": {"test": "indexof([5,26,49,68,90,110,129,151,172,192], datum.value) >= 0", "value": "#acacac"}, "value": "#d9d9d9"},
 "ticks": false, "domain": false, "labelPadding": 3, "labelFont": "Liberation Sans", "labelFontSize": 13,
 "labelFontWeight": {"condition": {"test": "indexof([5,26,49,68,90,110,129,151,172,192], datum.value) >= 0", "value": "bold"}, "value": "normal"},
 "labelOverlap": false, "labelFlush": false, "labelBound": false}},
"y": {"field": "h", "type": "quantitative", "scale": {"domain": [-117.4, 157.8], "nice": false, "zero": false},
 "axis": {"orient": "right", "values": [-110,-100,-90,-80,-70,-60,-50,-40,-30,-20,-10,0,10,20,30,40,50,60,70,80,90,100,110,120,130,140,150], "tickCount": 300, "format": "d", "grid": true, "gridColor": "#dedede", "domain": true, "domainColor": "#404040", "ticks": true, "tickSize": 4, "tickColor": "#404040", "labelPadding": 2, "labelFont": "DejaVu Sans", "labelFontSize": 12, "labelOverlap": false}},
"y2": {"datum": 0},
"fill": {"condition": {"test": "datum.h >= 0", "value": "#7aa8ef"}, "value": "#f5808f"},
"stroke": {"condition": {"test": "datum.h >= 0", "value": "#3f6fc4"}, "value": "#c24a5c"}
}
},
{
"data": {"name": "macd"},
"transform": [{"filter": "datum.k == 's'"}],
"mark": {"type": "line", "strokeWidth": 1.3, "interpolate": "monotone", "clip": true},
"encoding": {"x": {"field": "t", "type": "quantitative"}, "y": {"field": "v", "type": "quantitative"}, "color": {"datum": "132.290,", "type": "nominal"}}
},
{
"data": {"name": "macd"},
"transform": [{"filter": "datum.k == 'm'"}],
"mark": {"type": "line", "strokeWidth": 2.3, "interpolate": "monotone", "clip": true},
"encoding": {"x": {"field": "t", "type": "quantitative"}, "y": {"field": "v", "type": "quantitative"},
 "color": {"datum": "MACD(12,26,9) 122.305,", "type": "nominal",
  "scale": {"domain": ["MACD(12,26,9) 122.305,", "132.290,", "-9.985"], "range": ["#1c3a78", "#f0203f", "#6fa0ee"]},
  "legend": {"orient": "top-left", "direction": "horizontal", "title": null, "offset": 3, "padding": 0, "columnPadding": 0, "symbolType": "stroke", "symbolSize": 150, "symbolStrokeWidth": 3,
   "symbolOpacity": {"expr": "datum.value == 'MACD(12,26,9) 122.305,' ? 1 : 0"},
   "labelOffset": {"expr": "datum.value == 'MACD(12,26,9) 122.305,' ? 3 : -12"},
   "labelFont": "DejaVu Sans Mono", "labelFontSize": 15,
   "labelColor": {"expr": "datum.value == '132.290,' ? '#f0203f' : datum.value == '-9.985' ? '#6fa0ee' : '#1c3a78'"}}}}
},
{
"data": {"name": "marks"},
"mark": {"type": "rule", "color": "#1f1fff", "strokeDash": [4, 3], "strokeWidth": 1.3},
"encoding": {"x": {"field": "t", "type": "quantitative"}}
}
]
}
]
}
